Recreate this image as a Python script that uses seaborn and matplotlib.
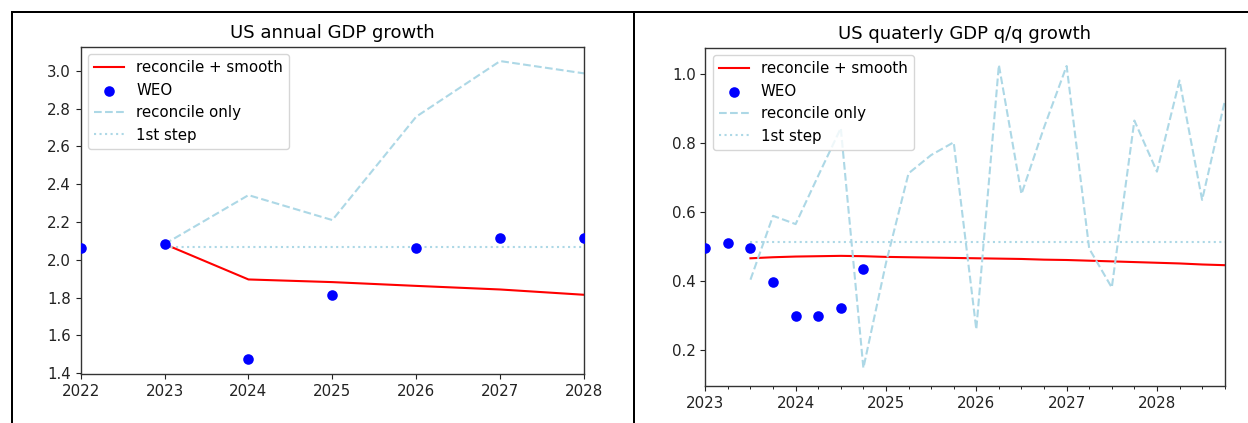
import matplotlib
matplotlib.use("Agg")
import matplotlib.pyplot as plt
from matplotlib.lines import Line2D
from matplotlib.ticker import MultipleLocator, FormatStrFormatter
import seaborn as sns

# ---------------- data: annual ----------------
years_weo = [2022, 2023, 2024, 2025, 2026, 2027, 2028]
weo_annual = [2.060, 2.083, 1.473, 1.815, 2.060, 2.116, 2.116]

years_fc = [2023, 2024, 2025, 2026, 2027, 2028]
smooth_annual = [2.083, 1.896, 1.882, 1.862, 1.843, 1.815]
reconcile_annual = [2.083, 2.342, 2.210, 2.757, 3.051, 2.986]
first_step_annual = [2.066, 2.066, 2.066, 2.066, 2.066, 2.066]

# ---------------- data: quarterly ----------------
quarters_weo = ["2023Q1", "2023Q2", "2023Q3", "2023Q4",
                "2024Q1", "2024Q2", "2024Q3", "2024Q4"]
weo_q = [0.497, 0.509, 0.497, 0.398, 0.300, 0.300, 0.323, 0.434]

quarters_fc = ["2023Q3", "2023Q4",
               "2024Q1", "2024Q2", "2024Q3", "2024Q4",
               "2025Q1", "2025Q2", "2025Q3", "2025Q4",
               "2026Q1", "2026Q2", "2026Q3", "2026Q4",
               "2027Q1", "2027Q2", "2027Q3", "2027Q4",
               "2028Q1", "2028Q2", "2028Q3", "2028Q4"]
smooth_q = [0.466, 0.469,
            0.471, 0.472, 0.473, 0.472,
            0.470, 0.469, 0.468, 0.467,
            0.466, 0.465, 0.464, 0.462,
            0.461, 0.459, 0.457, 0.455,
            0.453, 0.451, 0.448, 0.446]
reconcile_q = [0.404, 0.589,
               0.565, 0.705, 0.843, 0.148,
               0.452, 0.712, 0.765, 0.802,
               0.260, 1.026, 0.652, 0.845,
               1.023, 0.494, 0.381, 0.865,
               0.717, 0.981, 0.635, 0.920]
first_step_q = [0.512] * 22


def qpos(labels):
    return [int(s[:4]) + (int(s[-1]) - 1) / 4 for s in labels]


W, H = 1248, 423
fig = plt.figure(figsize=(W / 100, H / 100), dpi=100)
fig.patch.set_facecolor("white")


def px_axes(x0, x1, ytop, ybot):
    return fig.add_axes([x0 / W, 1 - ybot / H, (x1 - x0) / W, (ybot - ytop) / H])


ax1 = px_axes(80.7, 584, 46.7, 374)
ax2 = px_axes(705.3, 1224.7, 47.7, 386)

lw = 1.5
ms = 58
fs_tick = 10.8
fs_leg = 10.8
fs_title = 13

# ---- left panel ----
sns.lineplot(x=years_fc, y=smooth_annual, ax=ax1, color="red", lw=lw,
             label="reconcile + smooth")
sns.scatterplot(x=years_weo, y=weo_annual, ax=ax1, color="blue", s=ms,
                linewidth=0, label="WEO", zorder=3)
sns.lineplot(x=years_fc, y=reconcile_annual, ax=ax1, color="lightblue", lw=lw,
             linestyle="--", label="reconcile only")
sns.lineplot(x=years_fc, y=first_step_annual, ax=ax1, color="lightblue", lw=lw,
             linestyle=":", label="1st step")
ax1.set_xlim(2022, 2028)
ax1.set_ylim(1.396, 3.127)
ax1.xaxis.set_major_locator(MultipleLocator(1))
ax1.yaxis.set_major_locator(MultipleLocator(0.2))
ax1.yaxis.set_major_formatter(FormatStrFormatter("%.1f"))
ax1.set_title("US annual GDP growth", fontsize=fs_title)
ax1.legend(loc="upper left", fontsize=fs_leg)

# ---- right panel ----
sns.lineplot(x=qpos(quarters_fc), y=smooth_q, ax=ax2, color="red", lw=lw,
             label="reconcile + smooth")
sns.scatterplot(x=qpos(quarters_weo), y=weo_q, ax=ax2, color="blue", s=ms,
                linewidth=0, label="WEO", zorder=3)
sns.lineplot(x=qpos(quarters_fc), y=reconcile_q, ax=ax2, color="lightblue", lw=lw,
             linestyle="--", label="reconcile only")
sns.lineplot(x=qpos(quarters_fc), y=first_step_q, ax=ax2, color="lightblue", lw=lw,
             linestyle=":", label="1st step")
ax2.set_xlim(2023, 2028.75)
ax2.set_ylim(0.096, 1.076)
ax2.xaxis.set_major_locator(MultipleLocator(1))
ax2.xaxis.set_minor_locator(MultipleLocator(0.25))
ax2.yaxis.set_major_locator(MultipleLocator(0.2))
ax2.yaxis.set_major_formatter(FormatStrFormatter("%.1f"))
ax2.xaxis.set_major_formatter(FormatStrFormatter("%d"))
ax2.set_title("US quaterly GDP q/q growth", fontsize=fs_title)
ax2.legend(loc="upper left", fontsize=fs_leg)

for ax in (ax1, ax2):
    ax.tick_params(labelsize=fs_tick, colors="#222222")
    for sp in ax.spines.values():
        sp.set_color("#333333")
        sp.set_linewidth(1.0)

# ---- table-like borders ----
blw = 2 * 72 / 100
fig.add_artist(Line2D([12 / W, 1], [1 - 12 / H, 1 - 12 / H], color="black", lw=blw,
                      transform=fig.transFigure))
fig.add_artist(Line2D([12 / W, 12 / W], [0, 1 - 12 / H], color="black", lw=blw,
                      transform=fig.transFigure))
fig.add_artist(Line2D([634 / W, 634 / W], [0, 1 - 12 / H], color="black", lw=blw,
                      transform=fig.transFigure))

fig.savefig("out.png", dpi=100)
